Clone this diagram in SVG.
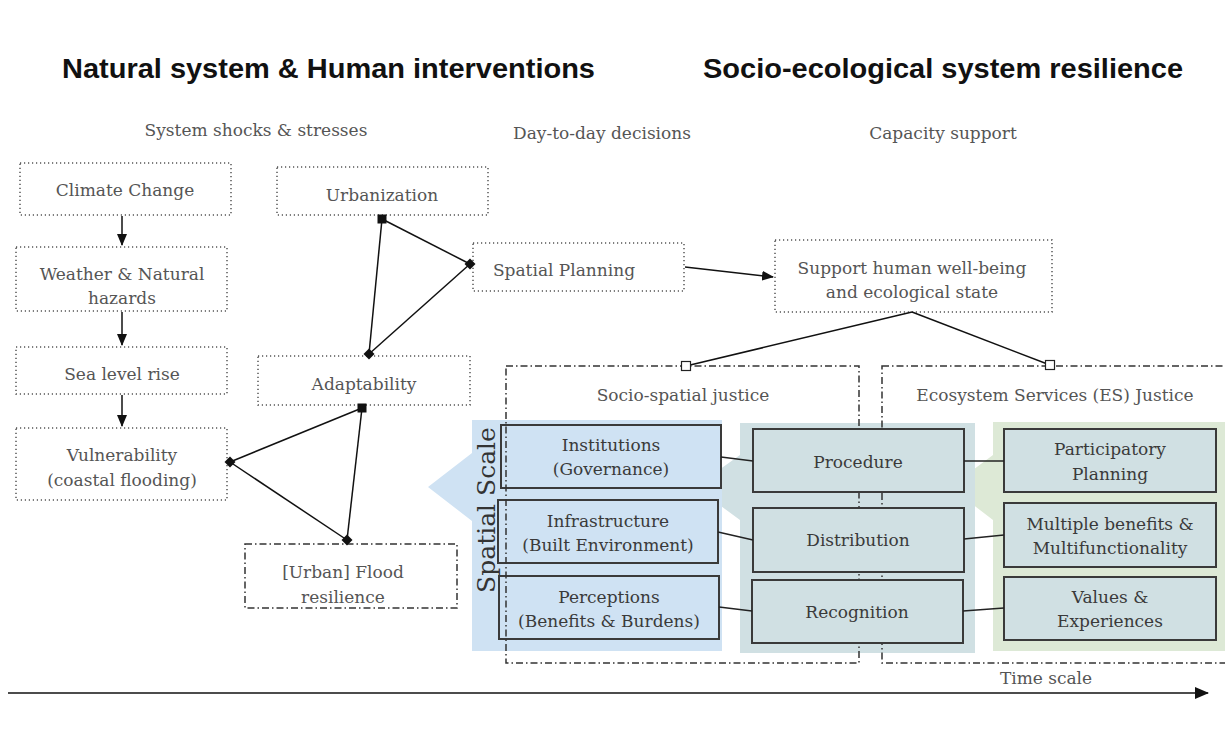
<svg xmlns="http://www.w3.org/2000/svg" xmlns:xlink="http://www.w3.org/1999/xlink" width="1225" height="729" viewBox="0 0 1225 729">
  <style>
    .title { font-family: "Liberation Sans", Arial, sans-serif; font-weight: bold; font-size: 28px; fill: #111; }
    .sub { font-family: "DejaVu Serif", "Liberation Serif", serif; font-size: 17px; fill: #555; text-anchor: middle; }
    .lbl { font-family: "DejaVu Serif", "Liberation Serif", serif; font-size: 17px; fill: #555; text-anchor: middle; }
    .lbl2 { font-family: "DejaVu Serif", "Liberation Serif", serif; font-size: 17px; fill: #3a3a3a; text-anchor: middle; }
    .dot { fill: #fff; stroke: #555; stroke-width: 1.5; stroke-dasharray: 1.2 2.8; }
    .dashdot { fill: none; stroke: #333; stroke-width: 1.5; stroke-dasharray: 7 3 1.5 3; }
    .dashdotbox { fill: #fff; stroke: #333; stroke-width: 1.5; stroke-dasharray: 7 3 1.5 3; }
    .box { stroke: #3a3a3a; stroke-width: 2; }
    .blue { fill: #cfe2f3; }
    .grey { fill: #d0e0e3; }
    .green { fill: #dde9d6; }
    .link { stroke: #111; stroke-width: 1.5; fill: none; }
    .thin { stroke: #222; stroke-width: 1.3; fill: none; }
  </style>
  <defs>
    <marker id="arrow" viewBox="0 0 12 10" refX="11" refY="5" markerWidth="12" markerHeight="10" markerUnits="userSpaceOnUse" orient="auto">
      <path d="M0,0 L12,5 L0,10 z" fill="#111"/>
    </marker>
    <marker id="arrow-big" viewBox="0 0 14 12" refX="13" refY="6" markerWidth="14" markerHeight="12" markerUnits="userSpaceOnUse" orient="auto">
      <path d="M0,0 L14,6 L0,12 z" fill="#111"/>
    </marker>
    <rect id="sq" x="-4.5" y="-4.5" width="9" height="9" fill="#111"/>
    <path id="dia" d="M0,-5.5 L5.5,0 L0,5.5 L-5.5,0 z" fill="#111"/>
    <rect id="osq" x="-4.5" y="-4.5" width="9" height="9" fill="#fff" stroke="#222" stroke-width="1.2"/>
  </defs>

  <rect width="1225" height="729" fill="#fff"/>

  <!-- headings -->
  <text class="title" x="62" y="78" textLength="533" lengthAdjust="spacingAndGlyphs">Natural system &amp; Human interventions</text>
  <text class="title" x="703" y="78" textLength="480" lengthAdjust="spacingAndGlyphs">Socio-ecological system resilience</text>
  <text class="sub" x="256" y="136">System shocks &amp; stresses</text>
  <text class="sub" x="602" y="139">Day-to-day decisions</text>
  <text class="sub" x="943" y="139">Capacity support</text>

  <!-- coloured backdrop panels -->
  <g id="panels">
    <path class="green" d="M993,422 H1225 V651 H993 V520 L950,487 L993,455 z"/>
    <path class="grey" d="M740,423 H975 V653 H740 V520 L695,487 L740,455 z"/>
    <path class="blue" d="M472,420 H722 V651 H472 V521 L428,487 L472,453 z"/>
  </g>

  <!-- left column of justice dimensions -->
  <g id="institutions">
    <rect class="box blue" x="501" y="425" width="220" height="63"/>
    <text class="lbl2" x="611" y="451">Institutions</text>
    <text class="lbl2" x="611" y="475">(Governance)</text>
  </g>
  <g id="infrastructure">
    <rect class="box blue" x="498" y="500" width="220" height="63"/>
    <text class="lbl2" x="608" y="527">Infrastructure</text>
    <text class="lbl2" x="608" y="551">(Built Environment)</text>
  </g>
  <g id="perceptions">
    <rect class="box blue" x="499" y="576" width="220" height="63"/>
    <text class="lbl2" x="609" y="603">Perceptions</text>
    <text class="lbl2" x="609" y="627">(Benefits &amp; Burdens)</text>
  </g>

  <!-- justice frames -->
  <g id="socio-spatial-justice">
    <rect class="dashdot" x="506" y="366" width="353" height="297"/>
    <text class="lbl" x="683" y="401">Socio-spatial justice</text>
  </g>
  <g id="es-justice">
    <rect class="dashdot" x="882" y="366" width="350" height="297"/>
    <text class="lbl" x="1055" y="401">Ecosystem Services (ES) Justice</text>
  </g>

  <text transform="translate(495,510) rotate(-90)" font-family="DejaVu Serif, Liberation Serif, serif" font-size="25" fill="#333" text-anchor="middle">Spatial Scale</text>

  <!-- middle column -->
  <g id="procedure">
    <rect class="box grey" x="753" y="429" width="211" height="63"/>
    <text class="lbl2" x="858" y="468">Procedure</text>
  </g>
  <g id="distribution">
    <rect class="box grey" x="753" y="508" width="211" height="64"/>
    <text class="lbl2" x="858" y="546">Distribution</text>
  </g>
  <g id="recognition">
    <rect class="box grey" x="752" y="580" width="211" height="63"/>
    <text class="lbl2" x="857" y="618">Recognition</text>
  </g>

  <!-- right column -->
  <g id="participatory-planning">
    <rect class="box grey" x="1004" y="429" width="212" height="63"/>
    <text class="lbl2" x="1110" y="455">Participatory</text>
    <text class="lbl2" x="1110" y="480">Planning</text>
  </g>
  <g id="multiple-benefits">
    <rect class="box grey" x="1004" y="503" width="212" height="64"/>
    <text class="lbl2" x="1110" y="530">Multiple benefits &amp;</text>
    <text class="lbl2" x="1110" y="554">Multifunctionality</text>
  </g>
  <g id="values-experiences">
    <rect class="box grey" x="1004" y="577" width="212" height="63"/>
    <text class="lbl2" x="1110" y="603">Values &amp;</text>
    <text class="lbl2" x="1110" y="627">Experiences</text>
  </g>

  <!-- shocks and interventions -->
  <g id="climate-change">
    <rect class="dot" x="20" y="163" width="211" height="52"/>
    <text class="lbl" x="125" y="196">Climate Change</text>
  </g>
  <g id="weather-hazards">
    <rect class="dot" x="16" y="247" width="211" height="64"/>
    <text class="lbl" x="122" y="280">Weather &amp; Natural</text>
    <text class="lbl" x="122" y="304">hazards</text>
  </g>
  <g id="sea-level-rise">
    <rect class="dot" x="16" y="347" width="211" height="47"/>
    <text class="lbl" x="122" y="380">Sea level rise</text>
  </g>
  <g id="vulnerability">
    <rect class="dot" x="16" y="428" width="211" height="72"/>
    <text class="lbl" x="122" y="461">Vulnerability</text>
    <text class="lbl" x="122" y="486">(coastal flooding)</text>
  </g>
  <g id="urbanization">
    <rect class="dot" x="277" y="167" width="211" height="48"/>
    <text class="lbl" x="382" y="201">Urbanization</text>
  </g>
  <g id="spatial-planning">
    <rect class="dot" x="473" y="243" width="211" height="48"/>
    <text class="lbl" x="564" y="276">Spatial Planning</text>
  </g>
  <g id="support-wellbeing">
    <rect class="dot" x="775" y="240" width="277" height="72"/>
    <text class="lbl" x="912" y="274">Support human well-being</text>
    <text class="lbl" x="912" y="298">and ecological state</text>
  </g>
  <g id="adaptability">
    <rect class="dot" x="258" y="356" width="212" height="49"/>
    <text class="lbl" x="364" y="390">Adaptability</text>
  </g>
  <g id="flood-resilience">
    <rect class="dashdotbox" x="245" y="544" width="212" height="64"/>
    <text class="lbl" x="343" y="578">[Urban] Flood</text>
    <text class="lbl" x="343" y="603">resilience</text>
  </g>

  <!-- connectors -->
  <g id="connectors">
    <line class="link" x1="122" y1="216" x2="122" y2="245" marker-end="url(#arrow)"/>
    <line class="link" x1="122" y1="312" x2="122" y2="345" marker-end="url(#arrow)"/>
    <line class="link" x1="122" y1="395" x2="122" y2="426" marker-end="url(#arrow)"/>

    <line class="link" x1="382" y1="219" x2="470" y2="264"/>
    <line class="link" x1="382" y1="219" x2="369" y2="354"/>
    <line class="link" x1="470" y1="264" x2="369" y2="354"/>
    <use xlink:href="#sq" x="382" y="219"/>
    <use xlink:href="#dia" x="470" y="264"/>
    <use xlink:href="#dia" x="369" y="354"/>

    <line class="link" x1="230" y1="462" x2="362" y2="408"/>
    <line class="link" x1="230" y1="462" x2="347" y2="540"/>
    <line class="link" x1="362" y1="408" x2="347" y2="540"/>
    <use xlink:href="#sq" x="362" y="408"/>
    <use xlink:href="#dia" x="230" y="462"/>
    <use xlink:href="#dia" x="347" y="540"/>

    <line class="link" x1="685" y1="267" x2="773" y2="277" marker-end="url(#arrow)"/>

    <line class="link" x1="912" y1="312" x2="686" y2="366"/>
    <line class="link" x1="912" y1="312" x2="1050" y2="365"/>
    <use xlink:href="#osq" x="686" y="366"/>
    <use xlink:href="#osq" x="1050" y="365"/>

    <line class="thin" x1="721" y1="457" x2="753" y2="461"/>
    <line class="thin" x1="718" y1="532" x2="753" y2="540"/>
    <line class="thin" x1="719" y1="607" x2="752" y2="611"/>
    <line class="thin" x1="964" y1="461" x2="1004" y2="461"/>
    <line class="thin" x1="964" y1="539" x2="1004" y2="535"/>
    <line class="thin" x1="963" y1="611" x2="1004" y2="608"/>

    <line class="link" x1="8" y1="693" x2="1208" y2="693" marker-end="url(#arrow-big)"/>
  </g>
  <text class="lbl" x="1046" y="684">Time scale</text>
</svg>
